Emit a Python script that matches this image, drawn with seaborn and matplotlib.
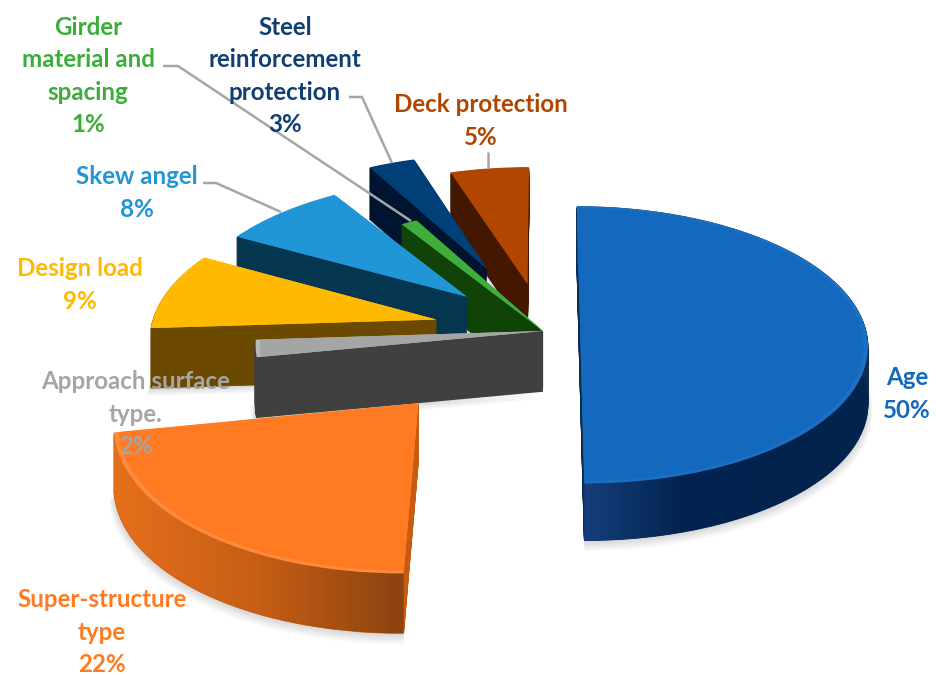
import numpy as np
import matplotlib
matplotlib.use("Agg")
import matplotlib.pyplot as plt
import seaborn as sns
from matplotlib.transforms import Transform
from matplotlib.path import Path
from matplotlib.patches import PathPatch
from matplotlib.colors import LinearSegmentedColormap

# ---- data -------------------------------------------------------------
categories = ["Age", "Super-structure\ntype", "Approach surface\ntype.", "Design load",
              "Skew angel", "Girder\nmaterial and\nspacing", "Steel\nreinforcement\nprotection",
              "Deck protection"]
values = [50, 22, 2, 9, 8, 1, 3, 5]

# ---- style ------------------------------------------------------------
top_colors = ["#1469BE", "#FF7A20", "#A5A5A5", "#FFB900", "#2196D6", "#3FAE3A", "#003F77", "#B04600"]
rim_colors = ["#1C70C3", "#FF8A3C", "#B8B8B8", "#FFB900", "#2196D6", "#3FAE3A", "#003F77", "#B04600"]
wall_colors = ["#0D2C55", "#C85A12", "#404040", "#6B4A00", "#04364F", "#0F4308", "#00142F", "#431700"]
label_colors = ["#1469BE", "#FF7A20", "#A5A5A5", "#FFB900", "#2196D6", "#3AAD3A", "#123F73", "#B04600"]
explode = [0.13, 0.65, 0.0, 0.385, 0.375, 0.0, 0.52, 0.36]
depth_px = [57, 60, 60, 60, 58, 56, 52, 50]
wall_edge = [0.6, 0.6, 1.1, 0.6, 0.6, 0.6, 0.6, 0.6]
draw_rank = [7, 6, 5, 4, 3, 2, 1, 0]
label_xy = [(907, 394), (102, 632), (136, 414), (80, 285), (137, 193), (88, 76), (285, 76), (481, 121)]
leaders = {
    "Skew": [(203, 183), (216, 183), (281, 212)],
    "Girder": [(163, 66), (178, 66), (411, 221)],
    "Steel": [(349, 97), (362, 97), (392, 163)],
    "Deck": [(488, 152), (488, 168)],
}
rim_stops = {
    0: [(0.0, "#17407F"), (0.35, "#032451"), (1.0, "#02234B")],
    1: [(0.0, "#E56F1B"), (0.5, "#C65E15"), (1.0, "#8B4310")],
}
W, H = 937, 675
CX, CY, R = 543, 331, 286
TILT, PERSP = 0.48, 0.10

sns.set_theme(style="white")
plt.rcParams["font.family"] = ["Lato", "DejaVu Sans"]


class Camera(Transform):
    """Perspective view of the flat pie, then lowered by `drop` pixels."""
    input_dims = output_dims = 2

    def __init__(self, drop=0.0):
        super().__init__()
        self.drop = drop

    def transform_non_affine(self, xy):
        xy = np.asarray(xy, float)
        w = 1 + PERSP * xy[:, 1]
        return np.column_stack([xy[:, 0] / w, TILT * xy[:, 1] / w - self.drop / R])


fig, ax = plt.subplots(figsize=(W / 100, H / 100), dpi=100)
ax.set_position([0, 0, 1, 1])


def data(px, py):
    return (px - CX) / R, (CY - py) / R


pal_top = sns.color_palette(top_colors)
pal_rim = sns.color_palette(rim_colors)
pal_wall = sns.color_palette(wall_colors)
pie_args = dict(explode=explode, startangle=90, counterclock=False, frame=False)

# soft drop shadow below the slices
for s in range(1, 9):
    wedges, _ = ax.pie(values, colors=["#000000"] * len(values), radius=1 + 0.002 * s,
                       wedgeprops=dict(linewidth=0, alpha=0.018), **pie_args)
    for i, w in enumerate(wedges):
        w.set_transform(Camera(depth_px[i] + s) + ax.transData)
        w.set_zorder(-1)

# side walls: stacked copies of the pie, each lowered a little
for drop in range(max(depth_px), 0, -1):
    wedges, _ = ax.pie(values, colors=pal_wall, radius=1, **pie_args)
    for i, w in enumerate(wedges):
        w.set_linewidth(wall_edge[i])
        w.set_edgecolor(pal_wall[i])
        w.set_transform(Camera(drop) + ax.transData)
        w.set_zorder(draw_rank[i] + 0.1)
        w.set_visible(drop <= depth_px[i])

# top faces, with a thin lighter bevel at the outer edge
for radius, pal, z in ((1, pal_rim, 0.5), (0.985, pal_top, 0.6)):
    wedges, _ = ax.pie(values, colors=pal, radius=radius, wedgeprops=dict(linewidth=0), **pie_args)
    for i, w in enumerate(wedges):
        w.set_transform(Camera(0) + ax.transData)
        w.set_zorder(draw_rank[i] + z)

# shaded outer rims of the two large slices
fr = np.cumsum([0] + values) / sum(values) * 2 * np.pi
for i, stops in rim_stops.items():
    th = np.linspace(fr[i], fr[i + 1], 120)
    mid = 0.5 * (fr[i] + fr[i + 1])
    pts = np.column_stack([np.sin(th) + explode[i] * np.sin(mid), np.cos(th) + explode[i] * np.cos(mid)])
    a = Camera(0).transform_non_affine(pts)
    b = Camera(depth_px[i]).transform_non_affine(pts)
    poly = np.vstack([a, b[::-1], a[:1]])
    clip = PathPatch(Path(poly), transform=ax.transData, facecolor="none", edgecolor="none")
    ax.add_patch(clip)
    x0, x1 = poly[:, 0].min(), poly[:, 0].max()
    y0, y1 = poly[:, 1].min(), poly[:, 1].max()
    cmap = LinearSegmentedColormap.from_list("rim", stops)
    im = ax.imshow(np.linspace(0, 1, 256)[None, :], cmap=cmap, extent=(x0, x1, y0, y1),
                   aspect="auto", zorder=draw_rank[i] + 0.3, interpolation="bilinear")
    im.set_clip_path(clip)

# leader lines
for pts in leaders.values():
    xs, ys = zip(*[data(*p) for p in pts])
    ax.plot(xs, ys, color="#A6A6A6", lw=1.8, zorder=9, solid_capstyle="butt")

# labels
for name, v, col, (lx, ly) in zip(categories, values, label_colors, label_xy):
    tx, ty = data(lx, ly)
    ax.text(tx, ty, f"{name}\n{v}%", color=col, ha="center", va="center", fontsize=17.4,
            fontweight="bold", linespacing=1.5, zorder=10)

ax.set_aspect("auto")
ax.set_xlim(-CX / R, (W - CX) / R)
ax.set_ylim((CY - H) / R, CY / R)
ax.axis("off")
fig.savefig("out.png", dpi=100, facecolor="white")
